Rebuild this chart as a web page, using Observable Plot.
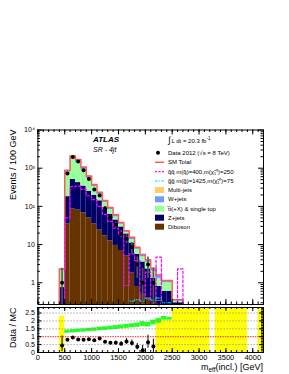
<!DOCTYPE html>
<html><head><meta charset="utf-8">
<script src="https://cdn.jsdelivr.net/npm/d3@7"></script>
<script src="https://cdn.jsdelivr.net/npm/@observablehq/plot@0.6"></script>
<style>
body{margin:0;background:#fff;}
#wrap{position:relative;width:289px;height:374px;font-family:"Liberation Sans",Arial,sans-serif;}
#wrap svg{position:absolute;left:0;overflow:visible}
</style></head><body><div id="wrap"></div>
<script>
// ---------- data ----------
const binLow = [400,500,600,700,800,900,1000,1100,1200,1300,1400,1500,1600,1700,1800,1900,2000,2100,2200,2300,2400,2500,2600];
const dibosonTop = [0,35,87,80,68,50,35,24,17,12.5,9.5,7,5,1.8,0.8,0.5,0.4,0.3,0,0,0,0,0];
const zjetsTop   = [0.75,180,510,420,340,250,195,140,90,62,44,29,19,11,5.5,3.5,2.3,1.3,0.8,0.6,0.6,0.3,0.3];
const ttbarTop   = [2.1,700,1750,1400,880,530,325,205,125,82,53,34,21,13.5,7.5,4.8,3.4,2.0,1.3,1.0,1.0,0.33,0.33];
const wjetsTop   = [2.3,870,2080,1680,1060,620,370,232,140,92,59,37.5,22.8,15.3,8.4,5.4,3.9,2.35,1.55,1.15,1.15,0.36,0.36];
const smTotal    = [2.3,880,2100,1700,1070,625,375,235,142,93,60,38,23,15.5,8.5,5.5,4,2.4,1.6,1.15,1.15,0.36,0.36];
const qqSignal   = [0,50,330,340,280,190,150,100,62,40,27,18,0.85,5.7,3.8,0,1.9,0,4.7,0,0,0,2.3];
const ggSignal   = [0,0,0,0,0,0,0,0,0.05,0.08,0.1,0.15,0.2,0.33,0.36,0.33,0.38,0.35,0.4,0.3,0.3,0.2,0.1];

const dataX  = [450,550,650,750,850,950,1050,1150,1250,1350,1450,1550,1650,1750,1850,1950,2050,2150];
const dataY  = [1,725,1950,1490,890,519,278,194,89,52,33,19,14.3,8.5,3,1,3,1];
const dataLo = [0.2,698,1906,1451,860,496,261,180,80,45,27,15,10.6,5.6,1.3,0.2,1.3,0.2];
const dataHi = [2.4,752,1994,1529,920,542,295,208,98,59,39,23,18,11.4,4.7,2.4,4.7,2.4];
const emptyDataX = [2250];

const ratioY  = [0.45,0.8,0.95,0.83,0.8,0.84,0.78,0.89,0.68,0.61,0.62,0.56,0.7,0.6,0.37,0.14,0.65,0.38];
const ratioLo = [0.05,0.77,0.93,0.8,0.77,0.8,0.73,0.83,0.6,0.52,0.51,0.43,0.52,0.4,0.17,0,0.27,0];
const ratioHi = [1.05,0.83,0.97,0.86,0.83,0.88,0.83,0.95,0.76,0.7,0.73,0.69,0.88,0.8,0.57,0.45,1.1,0.85];

const greenBins = [500,600,700,800,900,1000,1100,1200,1300,1400,1500,1600,1700,1800,1900,2000,2100,2200,2300,2400];
const greenLo   = [1.22,1.24,1.27,1.29,1.32,1.34,1.37,1.4,1.43,1.46,1.5,1.53,1.57,1.6,1.65,1.62,1.75,1.85,2.05,2.05];
const greenHi   = [1.42,1.45,1.48,1.5,1.53,1.56,1.6,1.63,1.67,1.7,1.74,1.78,1.82,1.86,1.95,1.9,2.05,2.15,2.28,2.22];
const yellowBins = [400,2200,2300,2400,2500,2600,2700,2800,2900,3000,3100,3300,3400,3500,3600,3700,3800,4100];
const yellowHi   = [2.3,1.85,2.05,2.05,2.85,2.85,2.85,2.85,2.85,2.85,2.85,2.85,2.85,2.85,2.85,2.85,2.85,2.85];

const xMajorTicks = [0,500,1000,1500,2000,2500,3000,3500,4000];
const yMainTicks = [1,10,100,1000,10000];
const yMainLabels = ["1","10","10\u00b2","10\u00b3","10\u2074"];
const yRatioTicks = [0,0.5,1,1.5,2,2.5];
const yRatioLabels = ["0","0.5","1","1.5","2","2.5"];

const legendLabels = ["SM Total","q\u0303q\u0303 m(q\u0303)=400,m(\u03c7\u0303\u2081\u2070)=250","g\u0303g\u0303 m(g\u0303)=1425,m(\u03c7\u0303\u2081\u2070)=75","Multi-jets","W+jets","t\u0305t(+X) & single top","Z+jets","Diboson"];

// ---------- styling ----------
const C = {multi:"#ffcc66", wjets:"#6f9bff", ttbar:"#99ff99", zjets:"#000066", dib:"#663300", sm:"#ff5a5a", qq:"#ff00ff", gg:"#00e5ff"};
const W = 289, X_DOMAIN = [0,4200], Y_MIN = 0.27, Y_MAX = 10000;
const ML = 37.4, MR = 26;
const FONT = '"Liberation Sans", Arial, sans-serif';
const wrap = document.getElementById("wrap");

// stacked layers
const layers = [
  {top: dibosonTop, below: null, fill: C.dib},
  {top: zjetsTop, below: dibosonTop, fill: C.zjets},
  {top: ttbarTop, below: zjetsTop, fill: C.ttbar},
  {top: wjetsTop, below: ttbarTop, fill: C.wjets},
  {top: smTotal, below: wjetsTop, fill: C.multi}
];
const rects = [];
layers.forEach(L => binLow.forEach((b,i) => {
  const lo = L.below ? Math.max(L.below[i], Y_MIN*0.5) : Y_MIN*0.5;
  const hi = L.top[i];
  if (hi > lo) rects.push({x1:b, x2:b+100, y1:lo, y2:hi, fill:L.fill});
}));
function stepPts(vals){
  const floor = Y_MIN*0.3;
  const pts = [{x:binLow[0], y:floor}];
  binLow.forEach((b,i)=>pts.push({x:b, y: vals[i] > 0 ? vals[i] : floor}));
  const end = binLow[binLow.length-1]+100;
  pts.push({x:end, y: vals[vals.length-1] > 0 ? vals[vals.length-1] : floor});
  pts.push({x:end, y:floor});
  return pts;
}
const minorX = d3.range(0, 4201, 100);
const minorYmain = [];
for (let e=-1;e<4;e++) for (let k=2;k<10;k++){ const v=k*Math.pow(10,e); if (v>Y_MIN && v<Y_MAX) minorYmain.push(v); }

const mainH = 305, mainTop = 129.5, mainBot = 1;
const frameW = W - ML - MR, mainFH = mainH - mainTop - mainBot;
const dataRows = dataX.map((x,i)=>({x, y:dataY[i], lo:Math.max(dataLo[i],Y_MIN*0.5), hi:dataHi[i]}));

const main = Plot.plot({
  width: W, height: mainH, marginLeft: ML, marginRight: MR, marginTop: mainTop, marginBottom: mainBot,
  style: {fontFamily: FONT, fontSize: "7px", background: "transparent", color: "black"},
  x: {domain: X_DOMAIN, axis: null},
  y: {type: "log", domain: [Y_MIN, Y_MAX], axis: null},
  marks: [
    Plot.rect(rects, {x1:"x1", x2:"x2", y1:"y1", y2:"y2", fill:"fill", clip:true}),
    Plot.line(stepPts(smTotal), {x:"x", y:"y", curve:"step-after", stroke:C.sm, strokeWidth:1.5, clip:true}),
    Plot.line(stepPts(qqSignal), {x:"x", y:"y", curve:"step-after", stroke:C.qq, strokeWidth:1.2, strokeDasharray:"2.5,2", clip:true}),
    Plot.line(stepPts(ggSignal), {x:"x", y:"y", curve:"step-after", stroke:C.gg, strokeWidth:1, strokeDasharray:"4,1.5,1,1.5", clip:true}),
    Plot.ruleX(dataRows, {x:"x", y1:"lo", y2:"hi", stroke:"#555", strokeWidth:1.6, clip:true}),
    Plot.dot(dataRows, {x:"x", y:"y", r:2, fill:"black", stroke:"none"}),
    Plot.dot(emptyDataX, {x:d=>d, y:Y_MIN*1.12, symbol:"triangle", rotate:180, r:2.6, stroke:"#777", fill:"none", strokeWidth:0.8}),
    Plot.frame({stroke:"black", strokeWidth:1}),
    Plot.tickY(yMainTicks, {y:d=>d, insetRight: frameW-5, stroke:"black"}),
    Plot.tickY(yMainTicks, {y:d=>d, insetLeft: frameW-5, stroke:"black"}),
    Plot.tickY(minorYmain, {y:d=>d, insetRight: frameW-2.5, stroke:"black"}),
    Plot.tickY(minorYmain, {y:d=>d, insetLeft: frameW-2.5, stroke:"black"}),
    Plot.tickX(minorX, {x:d=>d, insetTop: mainFH-2.5, stroke:"black"}),
    Plot.tickX(minorX, {x:d=>d, insetBottom: mainFH-2.5, stroke:"black"}),
    Plot.tickX(xMajorTicks, {x:d=>d, insetTop: mainFH-5, stroke:"black"}),
    Plot.tickX(xMajorTicks, {x:d=>d, insetBottom: mainFH-5, stroke:"black"}),
    Plot.axisY({ticks: yMainTicks, tickSize: 0, tickPadding: 3, tickFormat: d=>yMainLabels[yMainTicks.indexOf(d)], fontSize: 7})
  ]
});
main.style.top = "0px";
wrap.appendChild(main);

// ratio panel
const rH = 69, rTop = 2, rBot = 22;
const rFH = rH - rTop - rBot;
const greenRows = greenBins.map((b,i)=>({x1:b, x2:b+100, y1:greenLo[i], y2:greenHi[i]}));
const yellowRows = yellowBins.map((b,i)=>({x1:b, x2:b+100, y1:0, y2:yellowHi[i]}));
const ratioRows = dataX.map((x,i)=>({x, y:ratioY[i], lo:ratioLo[i], hi:ratioHi[i]}));
const minorR = d3.range(0, 2.85, 0.1);
const ratio = Plot.plot({
  width: W, height: rH, marginLeft: ML, marginRight: MR, marginTop: rTop, marginBottom: rBot,
  style: {fontFamily: FONT, fontSize: "7px", background: "transparent", color: "black"},
  x: {domain: X_DOMAIN, axis: null},
  y: {domain: [0, 2.85], axis: null},
  marks: [
    Plot.rect(yellowRows, {x1:"x1", x2:"x2", y1:"y1", y2:"y2", fill:"#ffff00", clip:true}),
    Plot.rect(greenRows, {x1:"x1", x2:"x2", y1:"y1", y2:"y2", fill:"#22ff22", clip:true}),
    Plot.ruleY([0.5,1.5,2,2.5], {stroke:"#888", strokeDasharray:"1.5,1.5", strokeWidth:0.7}),
    Plot.ruleY([1], {stroke:"#ff2020", strokeDasharray:"1.5,1", strokeWidth:1}),
    Plot.ruleX(ratioRows, {x:"x", y1:"lo", y2:"hi", stroke:"black", strokeWidth:1, clip:true}),
    Plot.dot(ratioRows, {x:"x", y:"y", r:2, fill:"black", stroke:"none"}),
    Plot.frame({stroke:"black", strokeWidth:1}),
    Plot.tickX(minorX, {x:d=>d, insetTop: rFH-2, stroke:"black"}),
    Plot.tickX(minorX, {x:d=>d, insetBottom: rFH-2, stroke:"black"}),
    Plot.tickX(xMajorTicks, {x:d=>d, insetTop: rFH-4, stroke:"black"}),
    Plot.tickX(xMajorTicks, {x:d=>d, insetBottom: rFH-4, stroke:"black"}),
    Plot.tickY(minorR, {y:d=>d, insetRight: frameW-2, stroke:"black"}),
    Plot.tickY(minorR, {y:d=>d, insetLeft: frameW-2, stroke:"black"}),
    Plot.tickY(yRatioTicks, {y:d=>d, insetRight: frameW-4, stroke:"black"}),
    Plot.tickY(yRatioTicks, {y:d=>d, insetLeft: frameW-4, stroke:"black"}),
    Plot.axisY({ticks: yRatioTicks, tickSize: 0, tickPadding: 3, tickFormat: d=>yRatioLabels[yRatioTicks.indexOf(d)], fontSize: 7}),
    Plot.axisX({ticks: xMajorTicks, tickSize: 0, tickPadding: 2, tickFormat: d=>String(d), fontSize: 7.5})
  ]
});
ratio.style.top = "305px";
wrap.appendChild(ratio);

// ---------- overlay texts & legend ----------
const ov = d3.select(wrap).append("svg").attr("width", W).attr("height", 374).style("top","0px")
  .style("font-family", FONT);
ov.append("text").attr("transform","translate(16,129.5) rotate(-90)").attr("text-anchor","end")
  .attr("font-size",9).text("Events / 100 GeV");
ov.append("text").attr("transform","translate(16,307.5) rotate(-90)").attr("text-anchor","end")
  .attr("font-size",9).text("Data / MC");
const xt = ov.append("text").attr("x",263).attr("y",369.5).attr("text-anchor","end").attr("font-size",9);
xt.append("tspan").text("m");
xt.append("tspan").attr("font-size",6.5).attr("dy",2).text("eff");
xt.append("tspan").attr("dy",-2).text("(incl.) [GeV]");

ov.append("text").attr("x",93).attr("y",141.8).attr("font-size",8).attr("font-weight","bold").attr("font-style","italic").text("ATLAS");
ov.append("text").attr("x",93).attr("y",151.6).attr("font-size",7).attr("font-style","italic").text("SR - 4jt");

const lx = 155, tx = 168, fs = 6;
const lum = ov.append("text").attr("x",tx).attr("y",143).attr("font-size",fs);
lum.append("tspan").attr("font-size",9).attr("dy",0).text("\u222b");
lum.append("tspan").attr("dx",1).attr("dy",-0.5).text("L dt = 20.3 fb");
lum.append("tspan").attr("font-size",4.5).attr("dy",-2.5).text("-1");
ov.append("circle").attr("cx",158).attr("cy",152.7).attr("r",2).attr("fill","black");
ov.append("text").attr("x",tx).attr("y",154.8).attr("font-size",fs).text("Data 2012 (\u221as = 8 TeV)");
const rowsY = [162.3,171.7,181,190,199.3,208.7,217.7,226.7];
ov.append("line").attr("x1",lx).attr("x2",lx+9).attr("y1",rowsY[0]).attr("y2",rowsY[0]).attr("stroke",C.sm).attr("stroke-width",1.5);
ov.append("line").attr("x1",lx).attr("x2",lx+9).attr("y1",rowsY[1]).attr("y2",rowsY[1]).attr("stroke",C.qq).attr("stroke-width",1.2).attr("stroke-dasharray","2,1.5");
ov.append("line").attr("x1",lx).attr("x2",lx+9).attr("y1",rowsY[2]).attr("y2",rowsY[2]).attr("stroke",C.gg).attr("stroke-width",1).attr("stroke-dasharray","3,1,1,1");
[C.multi,C.wjets,C.ttbar,C.zjets,C.dib].forEach((c,i)=>{
  ov.append("rect").attr("x",lx).attr("y",rowsY[i+3]-3).attr("width",9).attr("height",6).attr("fill",c);
});
legendLabels.forEach((t,i)=>{
  ov.append("text").attr("x",tx).attr("y",rowsY[i]+2.1).attr("font-size",fs).text(t);
});
</script></body></html>
